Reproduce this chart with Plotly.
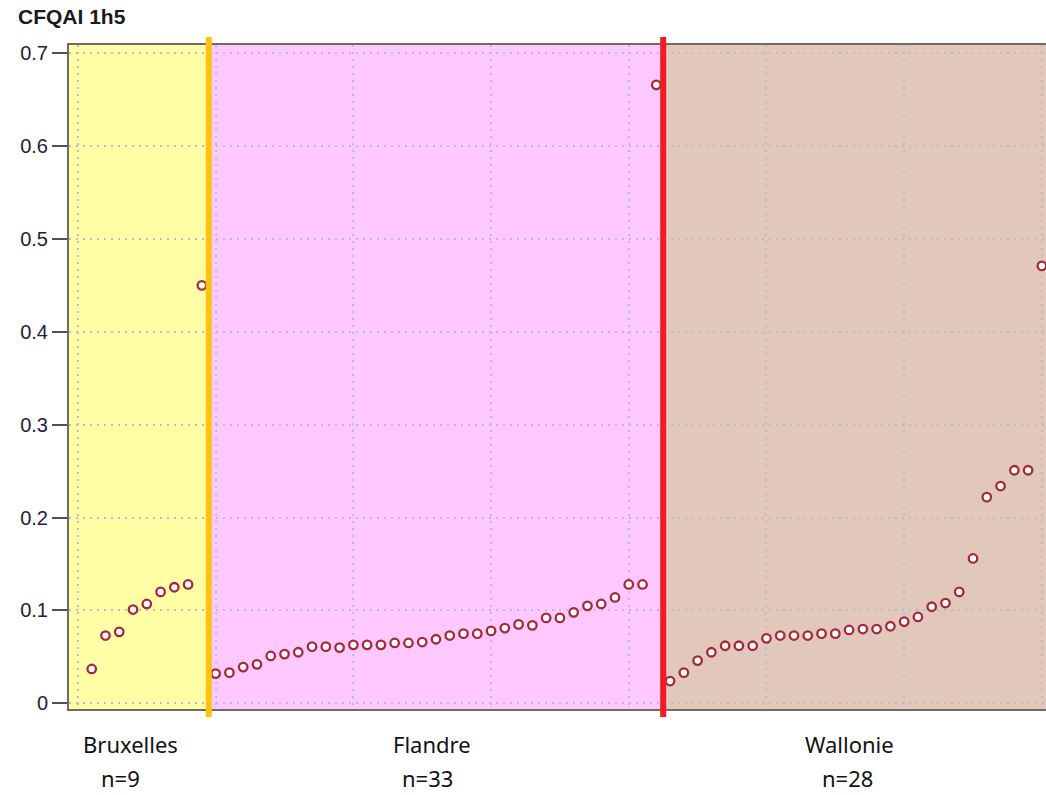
import plotly.graph_objects as go

# Sorted CFQAI 1h5 values per region
regions = ["Bruxelles", "Flandre", "Wallonie"]
bruxelles = [0.037, 0.073, 0.077, 0.101, 0.107, 0.120, 0.125, 0.128, 0.450]
flandre = [0.032, 0.033, 0.039, 0.042, 0.051, 0.053, 0.055, 0.061, 0.061, 0.060,
           0.063, 0.063, 0.063, 0.065, 0.065, 0.066, 0.069, 0.073, 0.075, 0.075,
           0.078, 0.081, 0.085, 0.084, 0.092, 0.092, 0.098, 0.105, 0.107, 0.114,
           0.128, 0.128, 0.666]
wallonie = [0.024, 0.033, 0.046, 0.055, 0.062, 0.062, 0.062, 0.070, 0.073, 0.073,
            0.073, 0.075, 0.075, 0.079, 0.080, 0.080, 0.083, 0.088, 0.093, 0.104,
            0.108, 0.120, 0.156, 0.222, 0.234, 0.251, 0.251, 0.471]
series = [bruxelles, flandre, wallonie]

region_fill = ["#FFFFA6", "#FFC8FF", "#E2C8BA"]
divider_color = ["#FFC20E", "#EE1D25"]
y_ticks = [0, 0.1, 0.2, 0.3, 0.4, 0.5, 0.6, 0.7]
y_tick_text = ["0", "0.1", "0.2", "0.3", "0.4", "0.5", "0.6", "0.7"]

x_range = [-0.65, 70.30]
y_range = [-0.0061, 0.7089]

fig = go.Figure()

# consecutive index positions across all regions
xs, ys = [], []
start = 1
bounds = []
for vals in series:
    xs += list(range(start, start + len(vals)))
    ys += vals
    bounds.append((start - 0.5, start + len(vals) - 0.5))
    start += len(vals)

fig.add_trace(go.Scatter(
    x=xs, y=ys, mode="markers",
    marker=dict(symbol="circle", size=8.5, color="white",
                line=dict(color="#A32A3C", width=2.3)),
    showlegend=False, hoverinfo="skip",
))

shapes = []
for i, (a, b) in enumerate(bounds):
    x0 = x_range[0] - 5 if i == 0 else a
    x1 = x_range[1] + 5 if i == len(bounds) - 1 else b
    shapes.append(dict(type="rect", xref="x", yref="paper", x0=x0, x1=x1,
                       y0=0, y1=1, fillcolor=region_fill[i], line_width=0,
                       layer="below"))
for i in range(len(bounds) - 1):
    xb = bounds[i][1]
    shapes.append(dict(type="line", xref="x", yref="paper", x0=xb, x1=xb,
                       y0=-0.012, y1=1.012,
                       line=dict(color=divider_color[i], width=6), layer="above"))

annotations = []
label_x = [3.8, 25.7, 56.0]
count_x = [3.1, 25.4, 55.9]
label_font = dict(family="Noto Sans", size=22, color="#111111")
for i, name in enumerate(regions):
    annotations.append(dict(x=label_x[i], y=0, xref="x", yref="paper",
                            text=name, showarrow=False, yanchor="middle",
                            yshift=-35, font=label_font))
    annotations.append(dict(x=count_x[i], y=0, xref="x", yref="paper",
                            text=f"n={len(series[i])}", showarrow=False, yanchor="middle",
                            yshift=-69, font=label_font))

grid_style = dict(showgrid=True, gridcolor="#B9BEC4", griddash="2px,5px", gridwidth=1.6)

fig.update_layout(
    width=1046, height=795,
    margin=dict(l=69, r=0, t=45, b=86),
    paper_bgcolor="white", plot_bgcolor="white",
    title=dict(text="<b>CFQAI 1h5</b>", xref="container", yref="container",
               x=18 / 1046, y=1 - 17 / 795, xanchor="left", yanchor="middle",
               font=dict(family="Arial", size=21, color="#1A1A1A")),
    shapes=shapes, annotations=annotations,
    xaxis=dict(range=x_range, tick0=0, dtick=10, showticklabels=False,
               zeroline=False, showline=True, mirror=True, linecolor="#6E6A64",
               linewidth=2, ticks="", **grid_style),
    yaxis=dict(range=y_range, tickvals=y_ticks, ticktext=y_tick_text,
               zeroline=False, showline=True, linecolor="#6E6A64", linewidth=2,
               ticks="outside", ticklen=15, tickwidth=1.5, tickcolor="#55524E",
               tickfont=dict(family="Arial", size=20, color="#22223A"),
               **grid_style),
)

fig.write_html("out.html")
